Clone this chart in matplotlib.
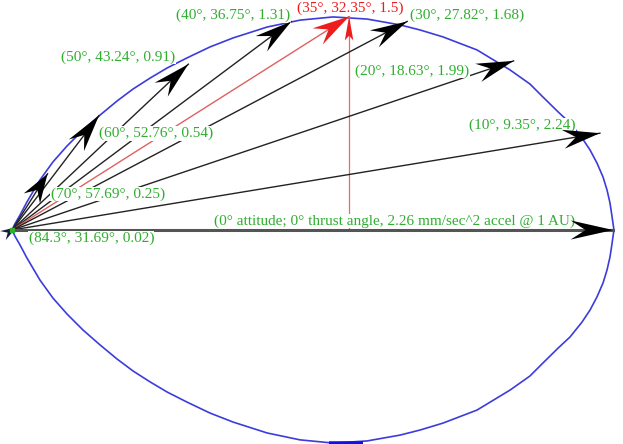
"""Sail thrust polar: attitude -> (thrust angle, accel) arrows from the Sun line."""
import numpy as np
import matplotlib.pyplot as plt
from matplotlib.patches import Polygon
import matplotlib.transforms as mtransforms

# (attitude deg, thrust angle deg, accel mm/s^2 @ 1 AU) as labelled
attitude = [84.3, 70, 60, 50, 40, 35, 30, 20, 10, 0]
thrust_angle = [31.69, 57.69, 52.76, 43.24, 36.75, 32.35, 27.82, 18.63, 9.35, 0.0]
accel = [0.02, 0.25, 0.54, 0.91, 1.31, 1.5, 1.68, 1.99, 2.24, 2.26]
labels = [
    "(84.3°, 31.69°, 0.02)",
    "(70°, 57.69°, 0.25)",
    "(60°, 52.76°, 0.54)",
    "(50°, 43.24°, 0.91)",
    "(40°, 36.75°, 1.31)",
    "(35°, 32.35°, 1.5)",
    "(30°, 27.82°, 1.68)",
    "(20°, 18.63°, 1.99)",
    "(10°, 9.35°, 2.24)",
    "(0° attitude; 0° thrust angle, 2.26 mm/sec^2 accel @ 1 AU)",
]
highlight = 35  # attitude drawn in red

# envelope of the polar (lower half), accel units
curve_x = [0.0, 0.011, 0.030, 0.056, 0.105, 0.154, 0.207, 0.267, 0.331, 0.395,
           0.455, 0.519, 0.583, 0.658, 0.744, 0.831, 0.959, 1.083, 1.207, 1.335,
           1.459, 1.534, 1.620, 1.748, 1.872, 1.947, 1.996, 2.053, 2.098, 2.143,
           2.173, 2.199, 2.222, 2.237, 2.248, 2.256, 2.263]
curve_y_low = [0.0, -0.023, -0.056, -0.105, -0.188, -0.256, -0.316, -0.376, -0.432,
               -0.485, -0.530, -0.571, -0.609, -0.647, -0.688, -0.722, -0.763,
               -0.789, -0.801, -0.793, -0.771, -0.752, -0.726, -0.677, -0.602,
               -0.549, -0.500, -0.444, -0.402, -0.346, -0.301, -0.252, -0.199,
               -0.150, -0.102, -0.049, 0.0]

# label placement (pixel offsets from arrow tip, alignment)
label_off = [(12, -11, "left"), (3, -20, "left"), (0, -18, "left"),
             (-13, 7, "right"), (-1, 6, "right"), (1, 8, "center"),
             (3, 6, "left"), (-44, -10, "right"), (-24, 8, "right"),
             (-38, 9, "right")]

GREEN = "#2fae2f"
RED = "#ee1c1c"
BLUE = "#3c3cdc"

S = 266.0  # px per accel unit
fig = plt.figure(figsize=(6.23, 4.44), dpi=100)
ax = fig.add_axes([0, 0, 1, 1])
ax.set_xlim(-12 / S, (623 - 12) / S)
ax.set_ylim(-(444 - 230) / S, 230 / S)
ax.axis("off")


def head(ax, x0, y0, x1, y1, color, length=0.14, half=0.036, notch=0.35):
    d = np.hypot(x1 - x0, y1 - y0)
    ux, uy = (x1 - x0) / d, (y1 - y0) / d
    nx, ny = -uy, ux
    bx, by = x1 - ux * length, y1 - uy * length
    pts = [(x1, y1),
           (bx + nx * half, by + ny * half),
           (x1 - ux * length * (1 - notch), y1 - uy * length * (1 - notch)),
           (bx - nx * half, by - ny * half)]
    ax.add_patch(Polygon(pts, closed=True, color=color, lw=0, zorder=5))


# envelope
cx = np.array(curve_x)
cy = np.array(curve_y_low)
ax.plot(np.r_[cx, cx[::-1]], np.r_[cy, -cy[::-1]], color=BLUE, lw=1.2,
        solid_joinstyle="round", zorder=2)

# blue marker clipped at the bottom of the envelope
trans = mtransforms.blended_transform_factory(ax.transData, ax.transAxes)
ax.plot([cx[np.argmin(cy)] + 0.05], [0], transform=trans, marker="_", ms=25,
        mew=4, color="#1010ee", clip_on=False, zorder=3)

for att, th, a, lab, (ox, oy, ha) in zip(attitude, thrust_angle, accel, labels, label_off):
    t = np.deg2rad(th)
    x1, y1 = a * np.cos(t), a * np.sin(t)
    red = att == highlight
    if att == 0:
        ax.plot([0, x1], [0, y1], color="#555555", lw=2.2, zorder=3)
        head(ax, 0, 0, x1, y1, "black", length=0.16, half=0.036)
    elif a < 0.05:
        ax.plot([0, x1], [0, y1], color="#8a3030", lw=1.0, zorder=3)
        head(ax, 0, 0, x1, y1, "#1a1a40", length=0.06, half=0.02)
    else:
        col = RED if red else "black"
        ax.plot([0, x1], [0, y1], color="#e06060" if red else "#222222",
                lw=1.0, zorder=3)
        hl = 0.14 if a > 0.3 else 0.11
        head(ax, 0, 0, x1, y1, col, length=hl)
    if red:
        ax.plot([x1, x1], [0, y1], color="#e86a6a", lw=0.9, zorder=3)
        head(ax, x1, 0, x1, y1, RED, length=0.09, half=0.016, notch=0.2)
    ax.annotate(lab, (x1, y1), xytext=(ox, oy), textcoords="offset pixels",
                ha=ha, va="center", fontsize=11, family="Liberation Serif",
                color=RED if red else GREEN, zorder=4,
                bbox=dict(fc="white", ec="none", pad=0.3))

# origin marker
ax.plot([0], [0], marker="s", ms=3, color=GREEN, zorder=6)

fig.savefig("out.png", dpi=100)
